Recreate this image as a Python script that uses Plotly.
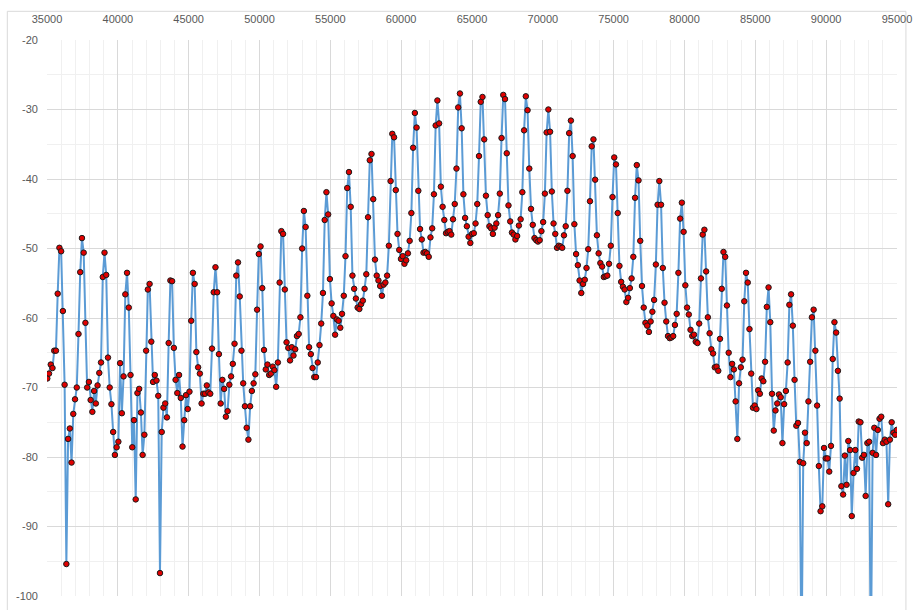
import numpy as np
import plotly.graph_objects as go

# Sample positions: evenly spaced readings from ~35020 to ~94990
x_first = 35020
x_last = 94990

level = [
    # 35000 - 41000
    -68.7, -68.0, -66.7, -67.2, -64.7, -64.7, -56.5, -49.9, -50.4, -59.0,
    -69.6, -95.4, -77.4, -75.9, -80.8, -73.8, -71.7, -70.0, -62.3, -53.4,
    -48.5, -50.6, -60.7, -70.0, -69.2, -71.8, -73.5, -70.5, -72.3, -69.7,
    -67.9, -66.4, -54.1, -50.6, -53.8, -65.7, -70.0, -72.4, -76.4, -79.7,
    -78.6, -77.8, -66.5, -73.7, -68.4, -56.6, -53.5, -58.5,
    # 41000 - 47000
    -68.2, -78.6, -74.7, -86.1, -70.8, -70.2, -73.6, -79.7, -76.8, -64.7,
    -55.9, -55.1, -63.4, -69.2, -68.2, -69.0, -71.2, -96.7, -76.4, -72.9,
    -72.3, -74.3, -63.6, -54.6, -54.7, -64.3, -68.9, -70.8, -68.2, -71.5,
    -78.5, -74.7, -71.1, -73.1, -70.6, -60.4, -53.5, -55.1, -64.9, -67.1,
    -68.0, -72.3, -70.9, -70.9, -69.7, -70.7, -70.9, -64.4, -56.3,
    # 47000 - 53000
    -52.7, -56.3, -65.2, -72.3, -68.9, -70.2, -74.2, -73.4, -69.6, -68.4,
    -66.6, -63.7, -53.9, -52.0, -56.9, -64.7, -69.4, -72.7, -75.8, -77.5,
    -72.7, -70.5, -69.4, -68.1, -58.8, -50.8, -49.7, -55.7, -64.6, -67.4,
    -66.7, -68.2, -68.0, -67.0, -67.5, -69.9, -66.4, -54.9, -47.5, -47.9,
    -55.9, -63.5, -64.3, -66.1, -64.2, -65.4, -64.5, -62.6, -62.3,
    # 53000 - 59000
    -59.9, -50.0, -44.6, -46.9, -56.8, -64.2, -65.2, -67.2, -68.5, -68.5,
    -66.4, -63.9, -60.8, -56.4, -45.9, -41.9, -45.1, -54.4, -57.9, -59.7,
    -62.4, -60.2, -60.4, -61.4, -59.4, -56.8, -51.1, -41.3, -39.0, -44.0,
    -53.9, -55.8, -57.2, -58.5, -58.7, -58.0, -57.5, -55.8, -53.7, -45.5,
    -37.3, -36.4, -42.9, -51.6, -53.9, -54.6, -55.4, -56.8,
    # 59000 - 65000
    -55.2, -54.9, -53.9, -49.6, -40.3, -33.5, -34.0, -41.6, -47.9, -50.2,
    -51.5, -51.1, -52.2, -51.7, -50.7, -48.9, -44.9, -35.5, -30.5, -32.6,
    -41.7, -47.2, -48.7, -50.6, -50.5, -50.7, -51.2, -48.4, -47.1, -42.2,
    -32.3, -28.7, -32.0, -41.1, -44.0, -45.9, -47.8, -47.6, -47.5, -48.0,
    -45.8, -43.6, -38.5, -29.7, -27.7, -32.7, -42.2, -45.6, -46.8,
    # 65000 - 71000
    -48.3, -49.2, -47.9, -47.8, -46.4, -43.6, -36.7, -28.9, -28.2, -34.3,
    -42.4, -45.2, -46.8, -47.1, -47.9, -47.0, -46.4, -45.2, -42.1, -34.1,
    -27.9, -28.5, -36.3, -43.8, -46.1, -47.7, -48.0, -48.7, -48.2, -46.7,
    -45.8, -41.9, -33.0, -28.1, -30.1, -38.5, -44.3, -46.6, -48.5, -48.8,
    -49.0, -48.8, -47.5, -46.2, -42.1, -33.3, -30.0, -33.2, -41.8,
    # 71000 - 77000
    -46.4, -47.9, -49.9, -49.6, -49.7, -49.9, -48.1, -46.8, -41.7, -33.4,
    -31.6, -36.7, -46.5, -50.8, -52.4, -54.6, -56.4, -55.1, -54.5, -52.8,
    -50.1, -43.2, -35.3, -34.3, -40.1, -48.1, -50.7, -52.1, -52.6, -54.1,
    -54.0, -53.9, -52.2, -49.6, -42.6, -36.9, -37.9, -44.9, -52.5, -54.8,
    -55.5, -55.9, -57.7, -57.1, -55.7, -54.3, -51.2, -42.7, -38.0,
    # 77000 - 83000
    -40.2, -48.9, -55.4, -58.5, -60.7, -61.1, -62.0, -60.5, -59.1, -57.4,
    -52.3, -43.7, -40.3, -43.7, -52.8, -57.8, -60.5, -62.6, -62.9, -62.8,
    -62.6, -61.0, -59.4, -53.5, -45.7, -43.4, -47.6, -55.3, -58.5, -59.5,
    -61.7, -62.6, -62.4, -63.4, -63.6, -60.8, -54.3, -48.0, -47.3, -53.3,
    -59.9, -62.2, -64.5, -65.1, -67.1, -67.0, -67.6, -63.0,
    # 83000 - 89000
    -55.8, -50.5, -51.2, -58.2, -65.0, -68.5, -66.6, -67.4, -72.0, -77.4,
    -69.4, -67.1, -66.0, -57.6, -53.5, -54.9, -61.6, -68.0, -72.9, -72.6,
    -73.1, -70.4, -70.9, -68.7, -69.1, -66.3, -58.4, -55.6, -60.6, -70.9,
    -76.2, -73.3, -72.3, -71.0, -71.4, -78.0, -72.4, -70.5, -66.4, -58.1,
    -56.6, -61.1, -68.9, -75.5, -75.1,
    # 89000 - 95000
    -80.7, -110.0, -80.9, -76.5, -78.0, -72.0, -66.3, -59.9, -58.8, -64.7,
    -72.6, -81.3, -87.8, -87.1, -78.7, -80.2, -80.2, -82.1, -78.4, -65.9,
    -60.6, -62.1, -67.6, -71.6, -84.2, -85.4, -79.8, -84.0, -77.7, -79.0,
    -88.5, -82.3, -79.0, -81.7, -74.9, -75.0, -80.1, -79.7, -85.6, -78.0,
    -77.8, -110.0, -79.4, -75.8, -79.7, -76.1, -74.5, -74.2, -78.0, -77.5,
    -77.8, -86.8, -77.5, -75.0, -76.5, -76.8, -76.1,
]

x_ticks = [35000, 40000, 45000, 50000, 55000, 60000, 65000, 70000, 75000, 80000, 85000, 90000, 95000]
y_ticks = [-20, -30, -40, -50, -60, -70, -80, -90, -100]

xs = np.linspace(x_first, x_last, len(level))

fig = go.Figure()
fig.add_trace(go.Scatter(
    x=xs, y=level, mode="lines+markers",
    line=dict(color="#5B9BD5", width=2),
    marker=dict(size=5.5, color="#E00000", line=dict(color="#1a1a1a", width=1)),
    showlegend=False,
))

font = dict(family="Liberation Sans, Arial, sans-serif", size=11, color="#595959")
fig.update_layout(
    width=920, height=610,
    margin=dict(l=47, r=16, t=40, b=8),
    paper_bgcolor="white", plot_bgcolor="white",
    font=font,
    xaxis=dict(
        range=[35000, 95000], side="top", tickvals=x_ticks,
        ticktext=[str(v) for v in x_ticks],
        showgrid=True, gridcolor="#D9D9D9", gridwidth=1,
        minor=dict(dtick=1000, showgrid=True, gridcolor="#F0F0F0", gridwidth=1),
        zeroline=False, showline=False, ticks="", ticklabelstandoff=14,
    ),
    yaxis=dict(
        range=[-100, -20], tickvals=y_ticks,
        ticktext=[str(v) for v in y_ticks],
        showgrid=True, gridcolor="#D9D9D9", gridwidth=1,
        minor=dict(dtick=5, showgrid=True, gridcolor="#F0F0F0", gridwidth=1),
        zeroline=False, showline=False, ticks="", ticklabelstandoff=8,
    ),
    shapes=[dict(type="rect", xref="paper", yref="paper",
                 x0=(7 - 47) / 857, x1=(913 - 47) / 857,
                 y0=-0.2, y1=1 + (40 - 11) / 562,
                 line=dict(color="#D9D9D9", width=1), layer="below")],
)

fig.write_html("out.html")
